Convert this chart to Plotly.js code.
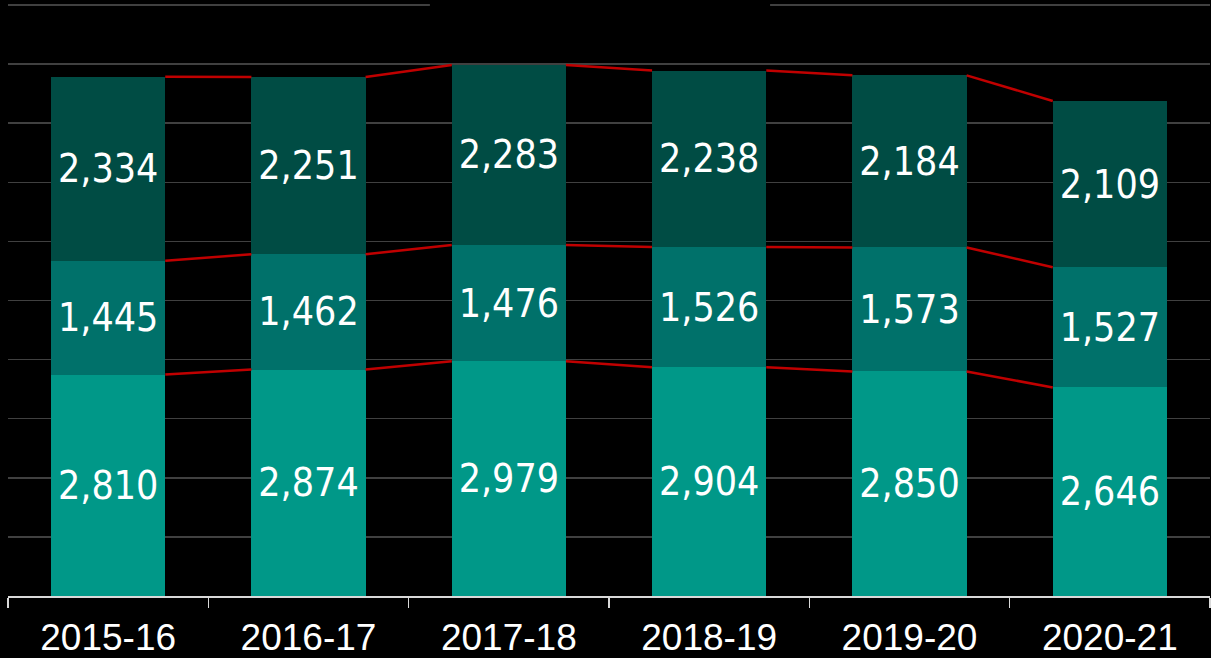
<!DOCTYPE html>
<html>
<head>
<meta charset="utf-8">
<script src="https://cdn.plot.ly/plotly-3.0.1.min.js"></script>
<style>
html,body{margin:0;padding:0;background:#000;}
#chart{width:1211px;height:658px;}
.bartext{font-stretch:condensed;}
</style>
</head>
<body>
<div id="chart"></div>
<script>
const categories = ["2015-16", "2016-17", "2017-18", "2018-19", "2019-20", "2020-21"];
const bottomValues = [2810, 2874, 2979, 2904, 2850, 2646];
const middleValues = [1445, 1462, 1476, 1526, 1573, 1527];
const topValues = [2334, 2251, 2283, 2238, 2184, 2109];

const barWidth = 0.57;
const labelFont = {family: "DejaVu Sans Condensed, DejaVu Sans, sans-serif", size: 39, color: "#ffffff"};

function barTrace(vals, color) {
  return {
    type: "bar", x: categories, y: vals, width: barWidth,
    marker: {color: color, line: {width: 0}},
    text: vals, texttemplate: "%{y:,d}", textposition: "inside",
    insidetextanchor: "middle", textfont: labelFont, hoverinfo: "skip",
    cliponaxis: false
  };
}

// connector lines between stacked segments
function connector(levels) {
  const xs = [], ys = [];
  for (let i = 0; i < levels.length - 1; i++) {
    xs.push(i + barWidth / 2, i + 1 - barWidth / 2, null);
    ys.push(levels[i], levels[i + 1], null);
  }
  return {type: "scatter", mode: "lines", x: xs, y: ys, xaxis: "x2", yaxis: "y",
    line: {color: "#c00000", width: 2.5}, hoverinfo: "skip", connectgaps: false};
}
const level1 = bottomValues.map((v, i) => v);
const level2 = bottomValues.map((v, i) => v + middleValues[i]);
const level3 = bottomValues.map((v, i) => v + middleValues[i] + topValues[i]);

const data = [
  barTrace(bottomValues, "#009888"),
  barTrace(middleValues, "#00716a"),
  barTrace(topValues, "#004c44"),
  connector(level1), connector(level2), connector(level3)
];

const layout = {
  width: 1211, height: 658,
  paper_bgcolor: "#000000", plot_bgcolor: "#000000",
  barmode: "stack", showlegend: false,
  margin: {l: 8, r: 1, t: 2, b: 62},
  xaxis: {
    type: "category", showgrid: false, showline: true, linecolor: "#d9d9d9", linewidth: 1.5,
    ticks: "outside", tickson: "boundaries", ticklen: 10, tickwidth: 1.5, tickcolor: "#d9d9d9",
    tickfont: {family: "Liberation Sans, Arial, sans-serif", size: 37, color: "#ffffff"},
    ticklabelstandoff: 8,
    zeroline: false
  },
  xaxis2: {overlaying: "x", range: [-0.5, 5.5], visible: false},
  yaxis: {
    range: [0, 7538], tickvals: [0, 750, 1500, 2250, 3000, 3750, 4500, 5250, 6000, 6750, 7500],
    showgrid: true, gridcolor: "#404040", gridwidth: 1.5,
    showticklabels: false, zeroline: false, showline: false, ticks: ""
  },
  shapes: [{type: "rect", xref: "paper", yref: "paper", x0: 0.351, x1: 0.634, y0: 0.98, y1: 1.0,
    fillcolor: "#000000", line: {width: 0}, layer: "above"}]
};

Plotly.newPlot("chart", data, layout, {displayModeBar: false, staticPlot: true});
</script>
</body>
</html>
